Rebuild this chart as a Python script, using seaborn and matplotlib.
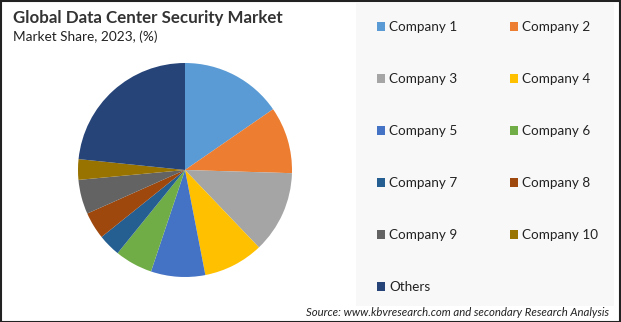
import matplotlib
matplotlib.use("Agg")
import matplotlib.pyplot as plt
import seaborn as sns
from matplotlib.patches import Rectangle, Patch

sns.set_theme(style="white")
plt.rcParams['font.family'] = ['Lato', 'DejaVu Sans']

companies = ["Company 1", "Company 2", "Company 3", "Company 4", "Company 5",
             "Company 6", "Company 7", "Company 8", "Company 9", "Company 10", "Others"]
shares = [15.4, 10.1, 12.4, 9.1, 8.2, 5.7, 3.4, 4.1, 5.2, 3.1, 23.4]
colors_hex = ["#5B9BD5", "#ED7D31", "#A5A5A5", "#FFC000", "#4472C4", "#70AD47",
              "#255E91", "#9E480E", "#636363", "#997300", "#264478"]
title = "Global Data Center Security Market"
subtitle = "Market Share, 2023, (%)"
source = "Source: www.kbvresearch.com and secondary Research Analysis"

palette = sns.color_palette(colors_hex)

W, H = 621, 322
fig = plt.figure(figsize=(W / 100, H / 100), dpi=100)
fig.patch.set_facecolor("white")

# legend panel background
fig.add_artist(Rectangle((356 / W, 16 / H), (614 - 356) / W, (319 - 16) / H,
                         transform=fig.transFigure, facecolor="#F8F8F8",
                         edgecolor="none", zorder=0))
# outer border
fig.add_artist(Rectangle((0.5 / W, 0.5 / H), (W - 1.5) / W, (H - 1.5) / H,
                         transform=fig.transFigure, facecolor="none",
                         edgecolor="#222222", linewidth=1.5, zorder=10))

cx, cy, r = 185, 170, 107
ax = fig.add_axes([(cx - r) / W, (H - cy - r) / H, 2 * r / W, 2 * r / H])
wedges, _ = ax.pie(shares, colors=palette, startangle=90, counterclock=False,
                   wedgeprops=dict(linewidth=0))
ax.set_xlim(-1, 1)
ax.set_ylim(-1, 1)
ax.set_aspect("equal")
ax.axis("off")

fig.text(13 / W, 1 - 18 / H, title, fontsize=12.2, fontweight="bold",
         color="#333333", va="center", ha="left")
fig.text(13 / W, 1 - 37 / H, subtitle, fontsize=9.8, color="#222222",
         va="center", ha="left")
fig.text(609 / W, 1 - 312 / H, source, fontsize=8.2, style="italic",
         color="#222222", va="center", ha="right")

handles = [Patch(facecolor=c, edgecolor="none") for c in palette]
order = [0, 2, 4, 6, 8, 10, 1, 3, 5, 7, 9]
leg = fig.legend([handles[i] for i in order], [companies[i] for i in order],
                 ncol=2, loc="upper left", bbox_to_anchor=(377 / W, 1 - 21 / H),
                 frameon=False, fontsize=9.7, handlelength=0.6, handleheight=0.6,
                 handletextpad=0.3, labelspacing=2.97, columnspacing=3.9,
                 borderaxespad=0, borderpad=0)
for t in leg.get_texts():
    t.set_color("#222222")

fig.savefig("out.png", dpi=100, facecolor="white")
